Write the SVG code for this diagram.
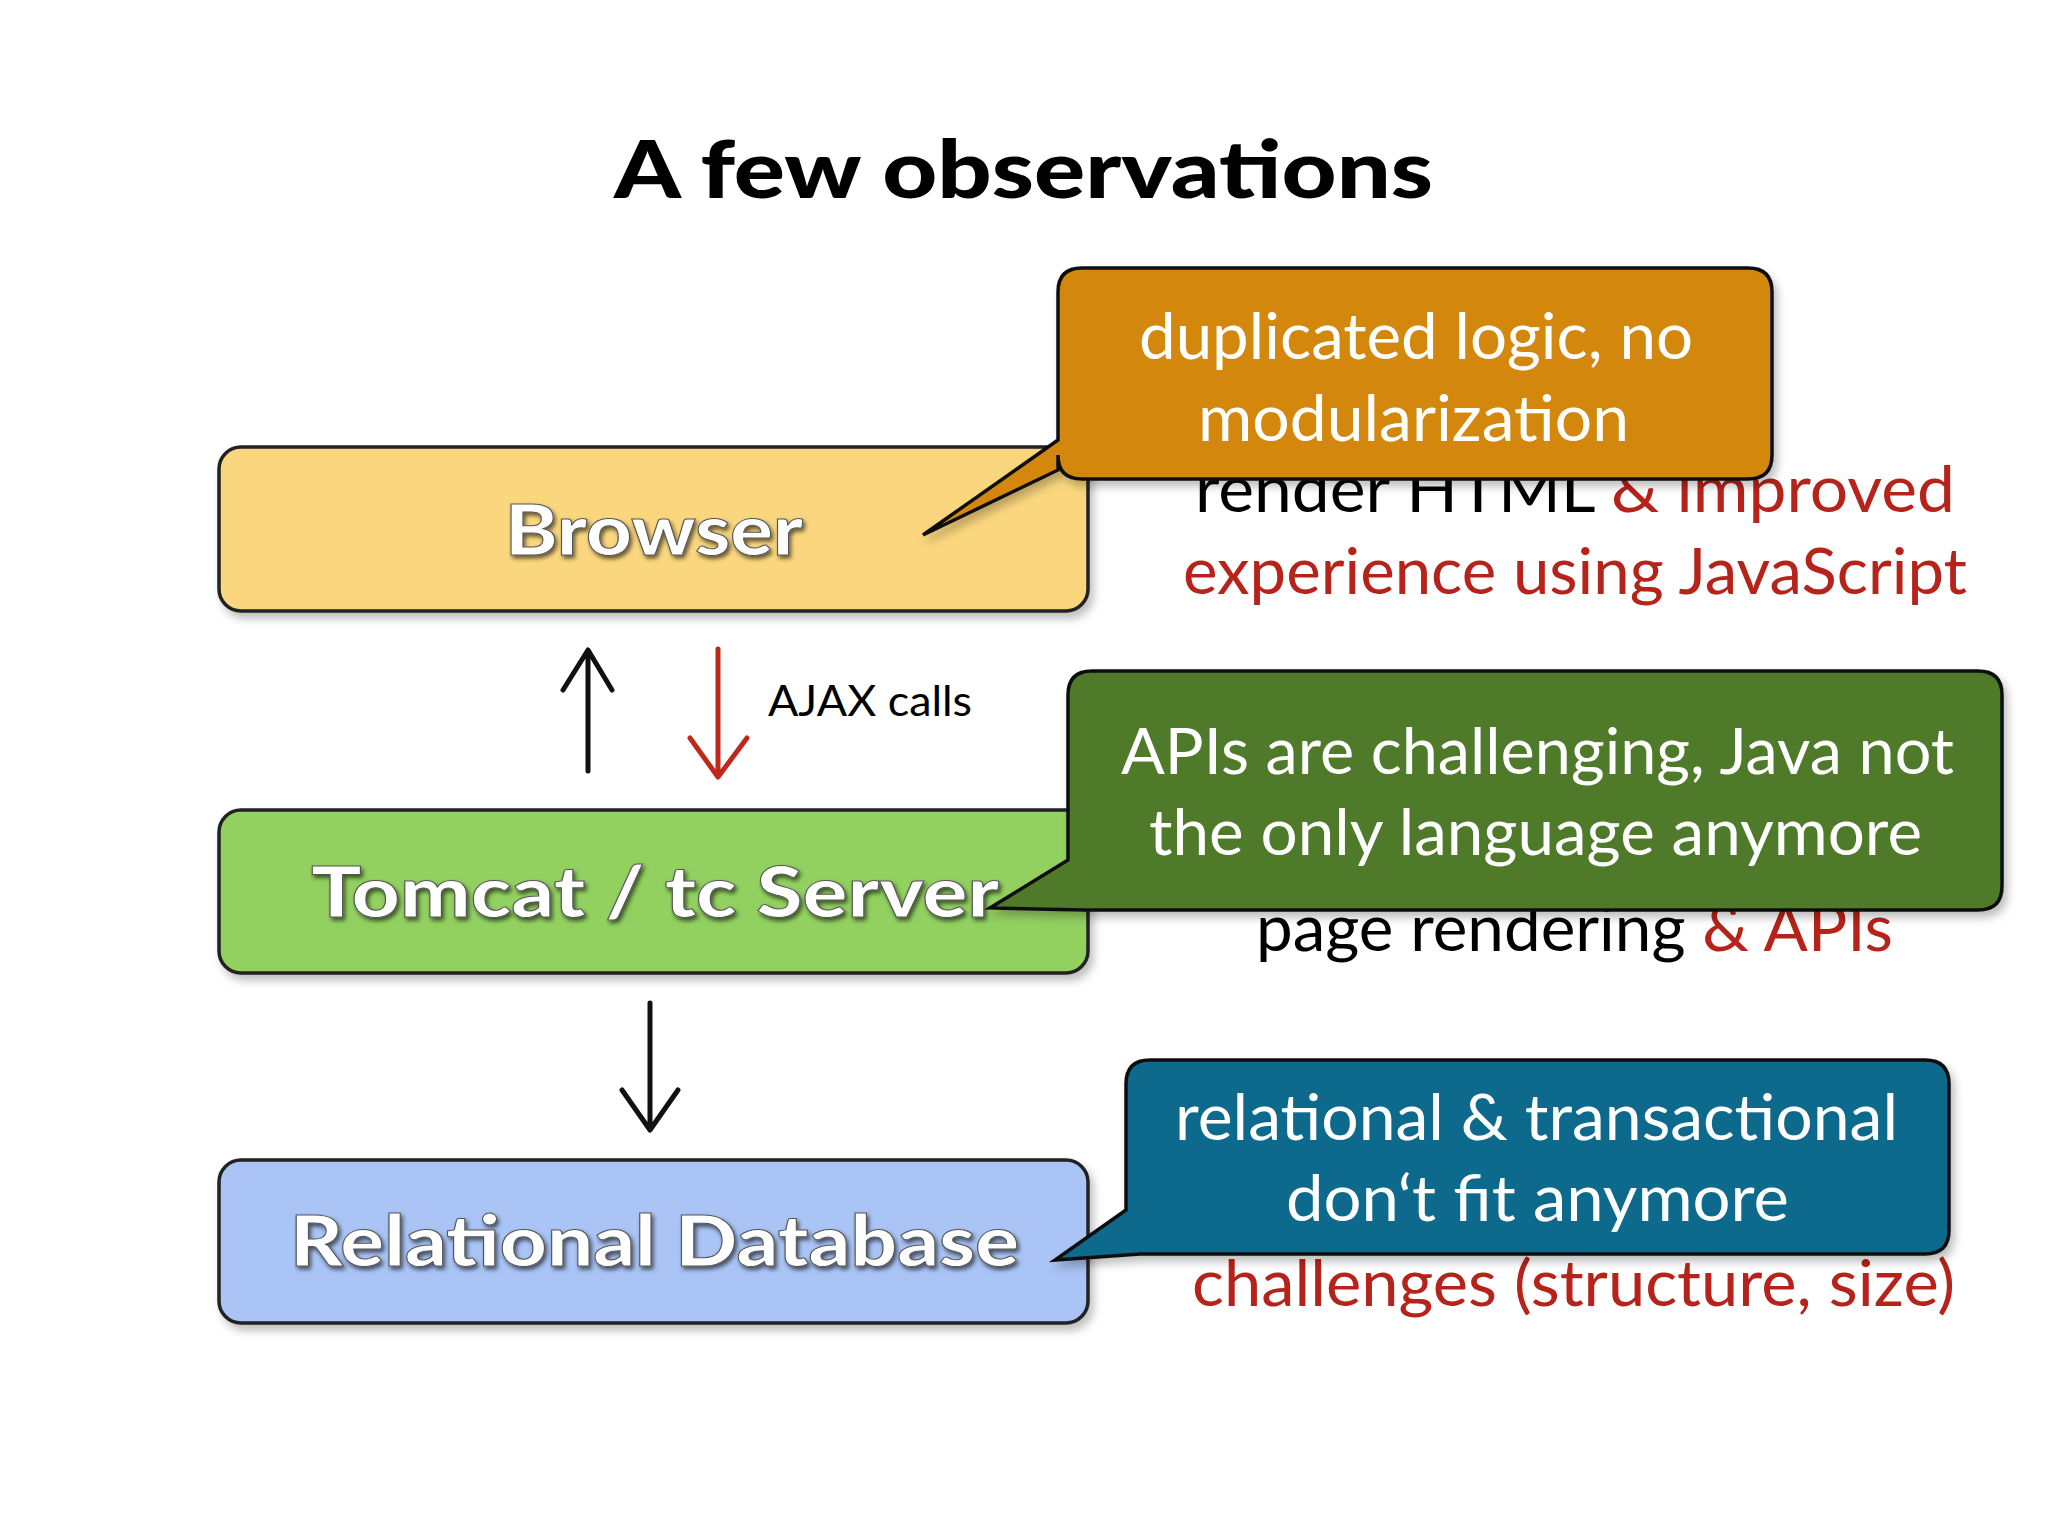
<svg xmlns="http://www.w3.org/2000/svg" width="2048" height="1536" viewBox="0 0 2048 1536">
<style>
.box{stroke:#222;stroke-width:3.5}
.lbl{font-family:Lato,"Open Sans",sans-serif;font-weight:900;font-size:70px;fill:#fff;stroke:#555;stroke-width:1}
.co{stroke:#111;stroke-width:3.5}
.ct{font-family:Lato,"Noto Sans",sans-serif;font-size:64px;fill:#fff}
.bt{font-family:Lato,"Noto Sans",sans-serif;font-size:64px;fill:#000}
.red{fill:#b5231a}
.arr{fill:none;stroke-width:5;stroke-linecap:round;stroke-linejoin:round}
</style>
<defs>
<filter id="sh" x="-10%" y="-10%" width="120%" height="130%"><feDropShadow dx="4" dy="6" stdDeviation="4" flood-color="#000" flood-opacity="0.25"/></filter>
<filter id="ts"><feDropShadow dx="2" dy="3" stdDeviation="2" flood-color="#000" flood-opacity="0.6"/></filter>
</defs>
<rect width="2048" height="1536" fill="#fff"/>
<text x="614" y="198" textLength="819" lengthAdjust="spacingAndGlyphs" font-family="Lato,'Open Sans',sans-serif" font-weight="900" font-size="80">A few observations</text>

<g id="browser"><rect class="box" x="219" y="447" width="869" height="164" rx="22" fill="#fad77e" filter="url(#sh)"/><text class="lbl" x="505" y="555" textLength="298" lengthAdjust="spacingAndGlyphs" filter="url(#ts)">Browser</text></g>
<g id="tomcat"><rect class="box" x="219" y="810" width="869" height="163" rx="22" fill="#92d160" filter="url(#sh)"/><text class="lbl" x="311" y="917" textLength="688" lengthAdjust="spacingAndGlyphs" filter="url(#ts)">Tomcat / tc Server</text></g>
<g id="db"><rect class="box" x="219" y="1160" width="869" height="163" rx="22" fill="#a9c4f5" filter="url(#sh)"/><text class="lbl" x="290" y="1266" textLength="729" lengthAdjust="spacingAndGlyphs" filter="url(#ts)">Relational Database</text></g>

<g id="connectors">
<path class="arr" stroke="#111" d="M588 771 L588 652 M563 690 L588 650 L612 690"/>
<path class="arr" stroke="#c0281c" d="M718 649 L718 775 M690 738 L718 777 L747 738"/>
<path class="arr" stroke="#111" d="M650 1003 L650 1128 M622 1090 L650 1130 L678 1090"/>
<text x="768" y="716" textLength="204" lengthAdjust="spacingAndGlyphs" font-family="Lato,'Noto Sans',sans-serif" font-size="42">AJAX calls</text>
</g>

<g id="behind">
<text class="bt" x="1195" y="512" textLength="760" lengthAdjust="spacingAndGlyphs">render HTML <tspan class="red">&amp; improved</tspan></text>
<text class="bt red" x="1183" y="594" textLength="784" lengthAdjust="spacingAndGlyphs">experience using JavaScript</text>
<text class="bt" x="1256" y="951" textLength="637" lengthAdjust="spacingAndGlyphs">page rendering <tspan class="red">&amp; APIs</tspan></text>
<text class="bt red" x="1192" y="1306" textLength="763" lengthAdjust="spacingAndGlyphs">challenges (structure, size)</text>
</g>

<g id="callout1"><path class="co" filter="url(#sh)" fill="#d4870a" d="M1082 268 H1748 Q1772 268 1772 292 V455 Q1772 479 1748 479 H1082 Q1058 479 1058 455 V470 L923 535 L1058 440 V292 Q1058 268 1082 268 Z"/>
<text class="ct" x="1139" y="359" textLength="554" lengthAdjust="spacingAndGlyphs">duplicated logic, no</text><text class="ct" x="1198" y="441" textLength="431" lengthAdjust="spacingAndGlyphs">modularization</text></g>

<g id="callout2"><path class="co" filter="url(#sh)" fill="#4f7a2b" d="M1092 671 H1978 Q2002 671 2002 695 V886 Q2002 910 1978 910 H1085 L990 908 L1068 860 V695 Q1068 671 1092 671 Z"/>
<text class="ct" x="1121" y="774" textLength="833" lengthAdjust="spacingAndGlyphs">APIs are challenging, Java not</text><text class="ct" x="1149" y="855" textLength="773" lengthAdjust="spacingAndGlyphs">the only language anymore</text></g>

<g id="callout3"><path class="co" filter="url(#sh)" fill="#0e6b8c" d="M1150 1060 H1925 Q1949 1060 1949 1084 V1230 Q1949 1254 1925 1254 H1140 L1055 1260 L1126 1210 V1084 Q1126 1060 1150 1060 Z"/>
<text class="ct" x="1175" y="1140" textLength="723" lengthAdjust="spacingAndGlyphs">relational &amp; transactional</text><text class="ct" x="1286" y="1221" textLength="503" lengthAdjust="spacingAndGlyphs">don‘t fit anymore</text></g>
</svg>
